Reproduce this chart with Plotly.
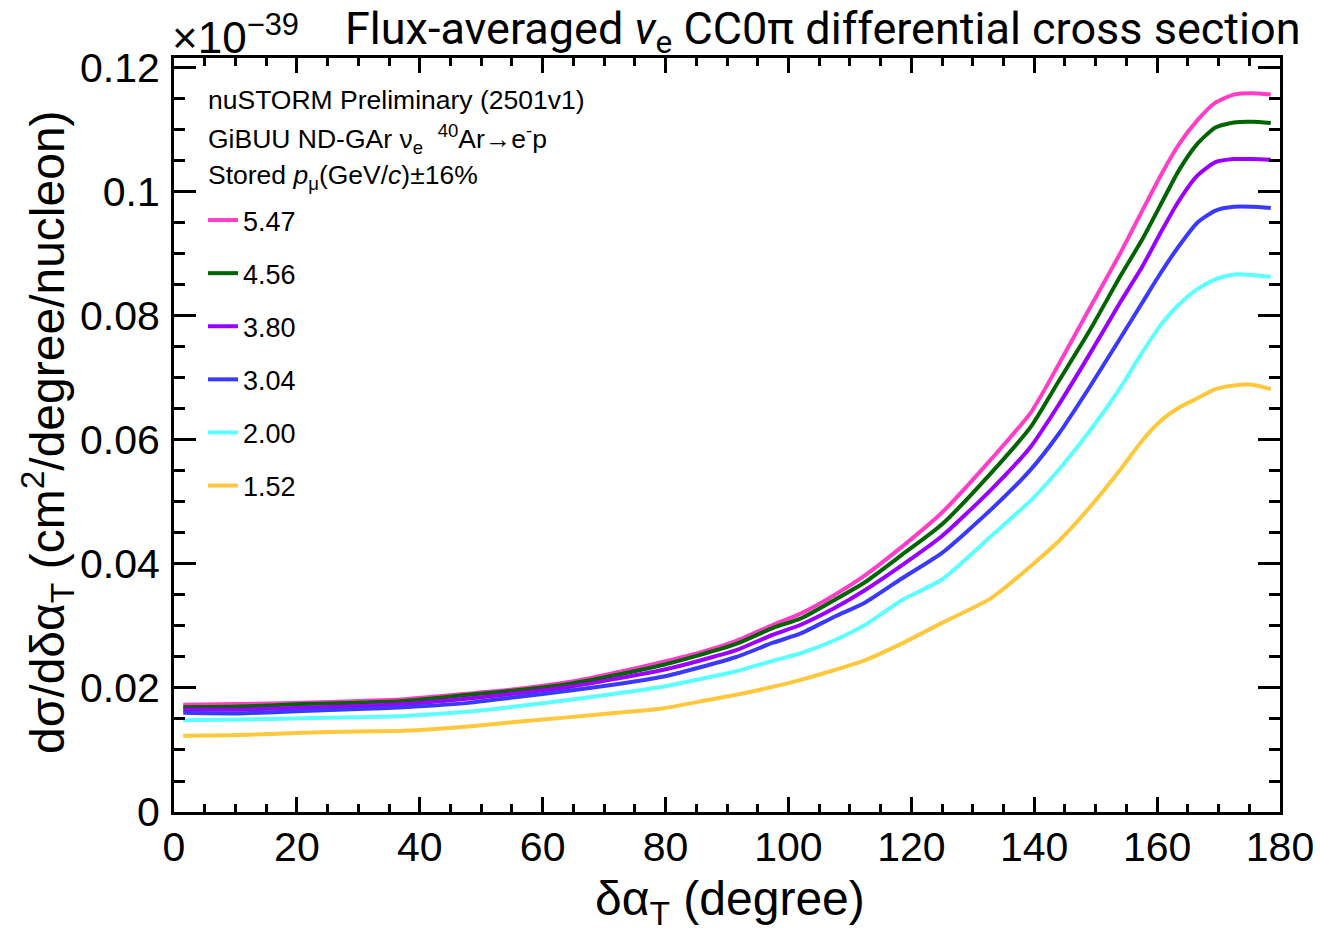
import plotly.graph_objects as go

x_deg = [1.5, 10.5, 21, 30, 37.5, 48, 55.5, 64.5, 72, 79.5, 85.5, 91.5, 97.5, 102, 107.5,
         112.5, 118.5, 125, 133, 139.5, 144, 149, 154, 157.5, 160.5, 163.5, 166.5, 169.5,
         172.5, 175.5, 178.5]

labels = ["5.47", "4.56", "3.80", "3.04", "2.00", "1.52"]
colors = ["#ff3dc8", "#006400", "#9b00ff", "#3a3aff", "#5cffff", "#ffc83c"]

y_547 = [0.0173, 0.0174, 0.0176, 0.0179, 0.0182, 0.0191, 0.0198, 0.0210, 0.0225, 0.0242, 0.0257,
         0.0276, 0.0302, 0.0320, 0.0350, 0.0382, 0.0428, 0.0483, 0.0569, 0.0645, 0.0722, 0.0812,
         0.0901, 0.0968, 0.1025, 0.1076, 0.1115, 0.1144, 0.1157, 0.1159, 0.1157]
y_456 = [0.0169, 0.0170, 0.0174, 0.0176, 0.0179, 0.0189, 0.0196, 0.0207, 0.0221, 0.0237, 0.0253,
         0.0271, 0.0297, 0.0312, 0.0342, 0.0371, 0.0415, 0.0464, 0.0547, 0.0622, 0.0695, 0.0776,
         0.0864, 0.0922, 0.0978, 0.1034, 0.1077, 0.1104, 0.1112, 0.1113, 0.1111]
y_380 = [0.0165, 0.0165, 0.0168, 0.0171, 0.0174, 0.0183, 0.0191, 0.0202, 0.0215, 0.0229, 0.0244,
         0.0261, 0.0286, 0.0302, 0.0329, 0.0358, 0.0398, 0.0445, 0.0520, 0.0590, 0.0657, 0.0738,
         0.0822, 0.0878, 0.0933, 0.0985, 0.1026, 0.1048, 0.1053, 0.1053, 0.1052]
y_304 = [0.0160, 0.0159, 0.0163, 0.0166, 0.0169, 0.0176, 0.0185, 0.0196, 0.0206, 0.0218, 0.0233,
         0.0250, 0.0273, 0.0288, 0.0315, 0.0338, 0.0377, 0.0418, 0.0488, 0.0553, 0.0610, 0.0685,
         0.0764, 0.0820, 0.0868, 0.0912, 0.0950, 0.0970, 0.0976, 0.0976, 0.0974]
y_200 = [0.0148, 0.0149, 0.0151, 0.0153, 0.0155, 0.0162, 0.0170, 0.0181, 0.0191, 0.0202, 0.0214,
         0.0227, 0.0244, 0.0256, 0.0277, 0.0302, 0.0342, 0.0375, 0.0445, 0.0503, 0.0552, 0.0614,
         0.0684, 0.0740, 0.0784, 0.0818, 0.0843, 0.0859, 0.0867, 0.0866, 0.0863]
y_152 = [0.0123, 0.0124, 0.0128, 0.0130, 0.0131, 0.0138, 0.0145, 0.0153, 0.0160, 0.0167, 0.0178,
         0.0189, 0.0202, 0.0213, 0.0229, 0.0245, 0.0272, 0.0305, 0.0345, 0.0397, 0.0437, 0.0491,
         0.0552, 0.0598, 0.0630, 0.0652, 0.0667, 0.0682, 0.0688, 0.0689, 0.0682]

series = [y_547, y_456, y_380, y_304, y_200, y_152]

FONT = "Liberation Sans, Arial, sans-serif"

fig = go.Figure()
for i, (lab, col, ys) in enumerate(zip(labels, colors, series)):
    fig.add_trace(go.Scatter(
        x=x_deg, y=ys, mode="lines", name=lab, legendgroup=lab,
        line=dict(color=col, width=4, shape="spline", smoothing=0.6),
    ))

W, H = 1320, 935
L, R, T, B = 174, 40, 58, 123
pw, ph = W - L - R, H - T - B

def px(xp):
    return (xp - L) / pw

def py(yp):
    return (H - B - yp) / ph

axis_common = dict(
    showline=True, linecolor="black", linewidth=3, mirror="allticks",
    ticks="inside", tickcolor="black", tickwidth=2.5,
    showgrid=False, zeroline=False,
    tickfont=dict(family=FONT, size=41, color="black"),
)

fig.update_xaxes(
    range=[0, 180], dtick=20, tick0=0, ticklen=15,
    minor=dict(dtick=5, ticklen=8, ticks="inside", tickcolor="black", tickwidth=2.5, showgrid=False),
    ticklabelstandoff=-3,
    **axis_common,
)
fig.update_yaxes(
    range=[0, 0.1216], dtick=0.02, tick0=0, ticklen=22,
    minor=dict(dtick=0.005, ticklen=11, ticks="inside", tickcolor="black", tickwidth=2.5, showgrid=False),
    ticklabelstandoff=3,
    **axis_common,
)

annotations = [
    dict(text="dσ/dδα<sub>T</sub> (cm<sup>2</sup>/degree/nucleon)", textangle=-90,
         x=px(47), y=py(432), xref="paper", yref="paper", xanchor="center", yanchor="middle",
         showarrow=False, font=dict(family=FONT, size=48, color="black")),
    dict(text="δα<sub>T</sub> (degree)",
         x=px(730), y=py(902), xref="paper", yref="paper", xanchor="center", yanchor="middle",
         showarrow=False, font=dict(family=FONT, size=48, color="black")),
    dict(text="Flux-averaged <i>ν</i><sub>e</sub> CC0π differential cross section",
         x=px(1303), y=py(32), xref="paper", yref="paper", xanchor="right", yanchor="middle",
         showarrow=False, font=dict(family="Roboto, sans-serif", size=45, color="black")),
    dict(text="×10<sup>−39</sup>",
         x=px(170), y=py(34), xref="paper", yref="paper", xanchor="left", yanchor="middle",
         showarrow=False, font=dict(family=FONT, size=44, color="black")),
    dict(text="nuSTORM Preliminary (2501v1)",
         x=px(206), y=py(100), xref="paper", yref="paper", xanchor="left", yanchor="middle",
         showarrow=False, font=dict(family=FONT, size=26.5, color="black")),
    dict(text="GiBUU ND-GAr ν<sub>e</sub>  <sup>40</sup>Ar→e<sup>-</sup>p",
         x=px(206), y=py(139), xref="paper", yref="paper", xanchor="left", yanchor="middle",
         showarrow=False, font=dict(family=FONT, size=26.5, color="black")),
    dict(text="Stored <i>p</i><sub>μ</sub>(GeV/<i>c</i>)±16%",
         x=px(206), y=py(177), xref="paper", yref="paper", xanchor="left", yanchor="middle",
         showarrow=False, font=dict(family=FONT, size=26.5, color="black")),
]

fig.update_layout(
    width=W, height=H,
    margin=dict(l=L, r=R, t=T, b=B, autoexpand=False),
    paper_bgcolor="white", plot_bgcolor="white",
    annotations=annotations,
    showlegend=True,
    legend=dict(
        x=px(203), y=py(196), xanchor="left", yanchor="top",
        bgcolor="rgba(0,0,0,0)", borderwidth=0,
        font=dict(family=FONT, size=27, color="black"),
        tracegroupgap=15, itemwidth=30,
    ),
)

fig.write_html("out.html")
